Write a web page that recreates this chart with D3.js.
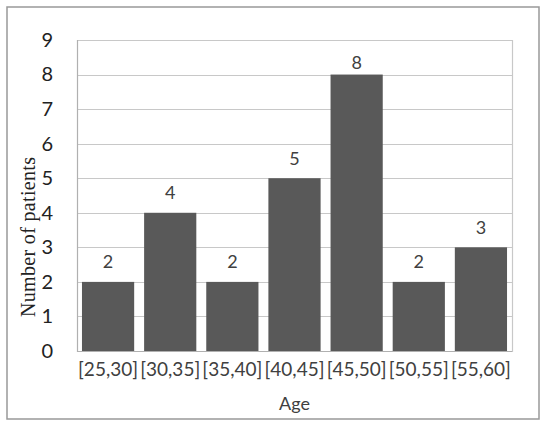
<!DOCTYPE html>
<html>
<head>
<meta charset="utf-8">
<script src="https://cdn.jsdelivr.net/npm/d3@7"></script>
<style>
html,body{margin:0;padding:0;background:#fff;}
svg{display:block;}
</style>
</head>
<body>
<svg id="chart" width="550" height="428"></svg>
<script>
const categories = ["[25,30]","[30,35]","[35,40]","[40,45]","[45,50]","[50,55]","[55,60]"];
const patients = [2,4,2,5,8,2,3];
const yTicks = [0,1,2,3,4,5,6,7,8,9];
const xTitle = "Age";
const yTitle = "Number of patients";

(function () {
const svg = d3.select("#chart");
const W = 550, H = 428;
const pL = 77, pR = 512, pT = 40, pB = 351;
const sansFont = "Lato, 'Open Sans', sans-serif";
const textColor = "#404040";

svg.append("rect").attr("width", W).attr("height", H).attr("fill", "#fff");
svg.append("rect").attr("x", 7).attr("y", 7).attr("width", 532).attr("height", 412)
  .attr("fill", "none").attr("stroke", "#999").attr("stroke-width", 1.5);

const x = d3.scaleBand().domain(categories).range([pL, pR]).paddingInner(0.16).paddingOuter(0.08);
const y = d3.scaleLinear().domain([0, 9]).range([pB, pT]);

// gridlines
svg.append("g").selectAll("line").data(yTicks).join("line")
  .attr("x1", pL).attr("x2", pR)
  .attr("y1", d => Math.round(y(d)) + 0.5).attr("y2", d => Math.round(y(d)) + 0.5)
  .attr("stroke", "#c8c8c8").attr("stroke-width", 1.2);

// plot frame
svg.append("line").attr("x1", pL + 0.5).attr("x2", pL + 0.5).attr("y1", pT).attr("y2", pB + 1)
  .attr("stroke", "#b0b0b0").attr("stroke-width", 1.2);
svg.append("line").attr("x1", pR + 0.5).attr("x2", pR + 0.5).attr("y1", pT).attr("y2", pB + 1)
  .attr("stroke", "#c8c8c8").attr("stroke-width", 1.2);

// bars
svg.append("g").selectAll("rect").data(patients).join("rect")
  .attr("x", (d, i) => x(categories[i]))
  .attr("width", x.bandwidth())
  .attr("y", d => y(d))
  .attr("height", d => y(0) - y(d))
  .attr("fill", "#595959");

// baseline
svg.append("line").attr("x1", pL).attr("x2", pR)
  .attr("y1", Math.round(y(0)) + 0.5).attr("y2", Math.round(y(0)) + 0.5)
  .attr("stroke", "#b0b0b0").attr("stroke-width", 1.2);

// data labels
svg.append("g").selectAll("text").data(patients).join("text")
  .attr("x", (d, i) => x(categories[i]) + x.bandwidth() / 2)
  .attr("y", d => Math.max(y(d) - 20, y(9) + 23))
  .attr("dy", "0.35em")
  .attr("text-anchor", "middle")
  .attr("font-family", sansFont).attr("font-size", 18)
  .attr("fill", textColor)
  .text(d => d);

// y axis
const yAxis = d3.axisLeft(y).tickValues(yTicks).tickSize(0).tickPadding(24).tickFormat(d3.format("d"));
const gy = svg.append("g").attr("transform", `translate(${pL},0)`).call(yAxis);
gy.select(".domain").remove();
gy.selectAll("text").attr("font-family", sansFont).attr("font-size", 20).attr("fill", "#222");

// x axis
const xAxis = d3.axisBottom(x).tickSize(0).tickPadding(12);
const gx = svg.append("g").attr("transform", `translate(0,${pB})`).call(xAxis);
gx.select(".domain").remove();
gx.selectAll("text").attr("font-family", sansFont).attr("font-size", 19).attr("fill", textColor);

// titles
svg.append("text").attr("x", (pL + pR) / 2).attr("y", 404).attr("dy", "0.35em")
  .attr("text-anchor", "middle").attr("font-family", sansFont).attr("font-size", 18)
  .attr("fill", textColor).text(xTitle);

svg.append("text").attr("transform", "translate(28,237) rotate(-90)")
  .attr("text-anchor", "middle").attr("dy", "0.35em")
  .attr("font-family", "'Liberation Serif', 'Times New Roman', serif").attr("font-size", 20)
  .attr("textLength", 160).attr("lengthAdjust", "spacing")
  .attr("fill", "#222").text(yTitle);
})();
</script>
</body>
</html>
